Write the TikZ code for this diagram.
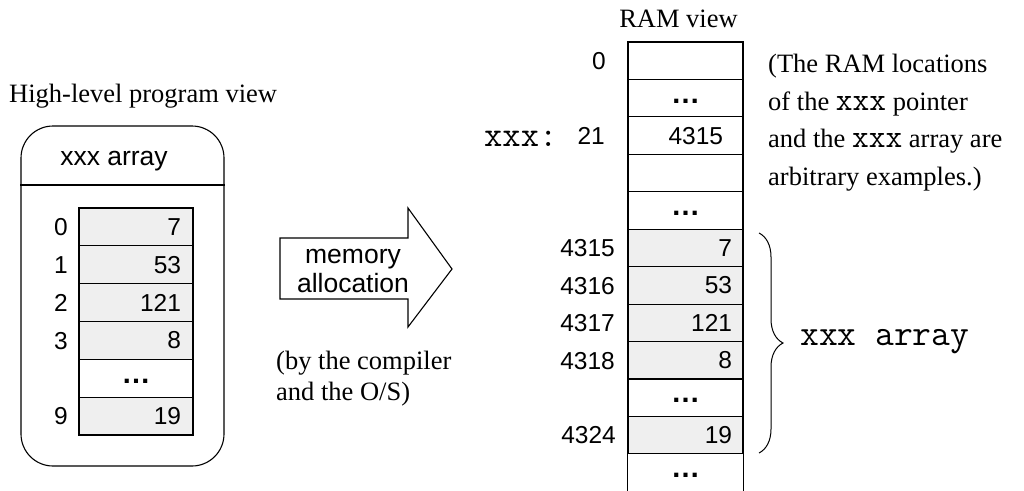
\documentclass[tikz,border=0pt]{standalone}
\usepackage{fontspec}
\setmainfont{Liberation Serif}
\newfontfamily\sansf{Liberation Sans}
\usetikzlibrary{decorations.pathreplacing}
\definecolor{cellgray}{RGB}{239,239,239}

\tikzset{
  line/.style={line width=1.1pt, draw=black},
  serif/.style={font=\fontsize{26.5}{31}\selectfont, inner sep=0pt},
  sanstxt/.style={font=\sansf\fontsize{26.5}{29}\selectfont, inner sep=0pt},
  numlbl/.style={font=\sansf\fontsize{24.5}{29}\selectfont, inner sep=0pt},
  monobig/.style={font=\ttfamily\fontsize{36.5}{38}\selectfont, inner sep=0pt},
  % one memory cell of the array in the program view
  pcell/.style={line, font=\sansf\fontsize{24.5}{29}\selectfont,
    minimum width=114pt, minimum height=37.83pt, inner ysep=0pt,
    inner xsep=12pt, text width=90pt, align=right},
  % one memory cell of the RAM column
  rcell/.style={line, font=\sansf\fontsize{24.5}{29}\selectfont,
    minimum width=115pt, minimum height=37.45pt, inner ysep=0pt,
    inner xsep=11pt, text width=93pt, align=right},
  shaded/.style={fill=cellgray},
  dots/.style={align=center},
}
\newcommand{\xxxmono}{{\ttfamily\fontsize{32.5}{31}\selectfont xxx}}
\newcommand{\celldots}{\raisebox{-5pt}[0pt][0pt]{\sansf\bfseries\fontsize{29}{29}\selectfont …}}

\begin{document}
\begin{tikzpicture}[x=1pt, y=-1pt]
\useasboundingbox (0,0) rectangle (1024,490);

% ---------- high-level program view ----------
\node[serif, anchor=base west] (ptitle) at (9,102) {High-level program view};
\node[line, rounded corners=32pt, minimum width=203pt, minimum height=340pt,
      inner sep=0pt] (prog) at (122.5,296) {};
\draw[line] (prog.west |- 0,185) -- (prog.east |- 0,185);
\node[sanstxt, anchor=base] (phead) at (114,165) {xxx array};

\node[pcell, shaded] (p0) at (136,226.9) {7};
\node[pcell, shaded] (p1) at (136,264.7) {53};
\node[pcell, shaded] (p2) at (136,302.6) {121};
\node[pcell, shaded] (p3) at (136,340.4) {8};
\node[pcell, dots]   (p4) at (136,378.2) {\celldots};
\node[pcell, shaded] (p5) at (136,416.1) {19};

\node[numlbl, anchor=base west] (i0) at (54,235.6) {0};
\node[numlbl, anchor=base west] (i1) at (54,273.4) {1};
\node[numlbl, anchor=base west] (i2) at (54,311.3) {2};
\node[numlbl, anchor=base west] (i3) at (54,349.1) {3};
\node[numlbl, anchor=base west] (i9) at (54,424.8) {9};

% ---------- allocation arrow ----------
\draw[line] (280,238) -- (408,238) -- (408,208) -- (452,269)
            -- (408,327) -- (408,299) -- (280,299) -- cycle;
\node[sanstxt, anchor=base] (m1) at (353,263) {memory};
\node[sanstxt, anchor=base] (m2) at (353,292) {allocation};
\node[serif, anchor=base west] (c1) at (276,369) {(by the compiler};
\node[serif, anchor=base west] (c2) at (276,400) {and the O/S)};

% ---------- RAM view ----------
\node[serif, anchor=base] (rtitle) at (678.5,27) {RAM view};

\node[rcell]         (r0)  at (685.5,60.7)  {};
\node[rcell, dots]   (r1)  at (685.5,98.2)  {\celldots};
\node[rcell, inner xsep=20pt, text width=75pt] (r2) at (685.5,135.6) {4315};
\node[rcell]         (r3)  at (685.5,173.1) {};
\node[rcell, dots]   (r4)  at (685.5,210.5) {\celldots};
\node[rcell, shaded] (r5)  at (685.5,248.0) {7};
\node[rcell, shaded] (r6)  at (685.5,285.4) {53};
\node[rcell, shaded] (r7)  at (685.5,322.9) {121};
\node[rcell, shaded] (r8)  at (685.5,360.3) {8};
\node[rcell, dots]   (r9)  at (685.5,397.8) {\celldots};
\node[rcell, shaded] (r10) at (685.5,435.2) {19};
\node[numlbl] (r11) at (685.5,472) {\celldots};
\draw[line] (r10.south west) -- ++(0,40);
\draw[line] (r10.south east) -- ++(0,40);

\node[numlbl, anchor=base east] (a0)  at (606,69.4)  {0};
\node[monobig, anchor=base west, font=\ttfamily\fontsize{35.5}{38}\selectfont]
  (ptr) at (484,146.3) {xxx:};
\node[numlbl, anchor=base east] (a21) at (605,144.3) {21};
\node[numlbl, anchor=base east] (a5)  at (615,256.7) {4315};
\node[numlbl, anchor=base east] (a6)  at (615,294.1) {4316};
\node[numlbl, anchor=base east] (a7)  at (615,331.6) {4317};
\node[numlbl, anchor=base east] (a8)  at (615,369.0) {4318};
\node[numlbl, anchor=base east] (a10) at (616,443.9) {4324};

% brace round the array in RAM
\coordinate (bt) at (759,233);
\coordinate (bb) at (759,453);
\draw[line width=1pt, decorate, decoration={brace, amplitude=24pt, aspect=0.5}]
  (bt) -- (bb);
\node[monobig, anchor=base west] (arr) at (800,345) {xxx array};

% note on the example locations
\node[serif, anchor=base west] (n1) at (768,72.5)  {(The RAM locations};
\node[serif, anchor=base west] (n2) at (768,110)   {of the \xxxmono{} pointer};
\node[serif, anchor=base west] (n3) at (768,147.5) {and the \xxxmono{} array are};
\node[serif, anchor=base west] (n4) at (768,185)   {arbitrary examples.)};
\end{tikzpicture}
\end{document}
